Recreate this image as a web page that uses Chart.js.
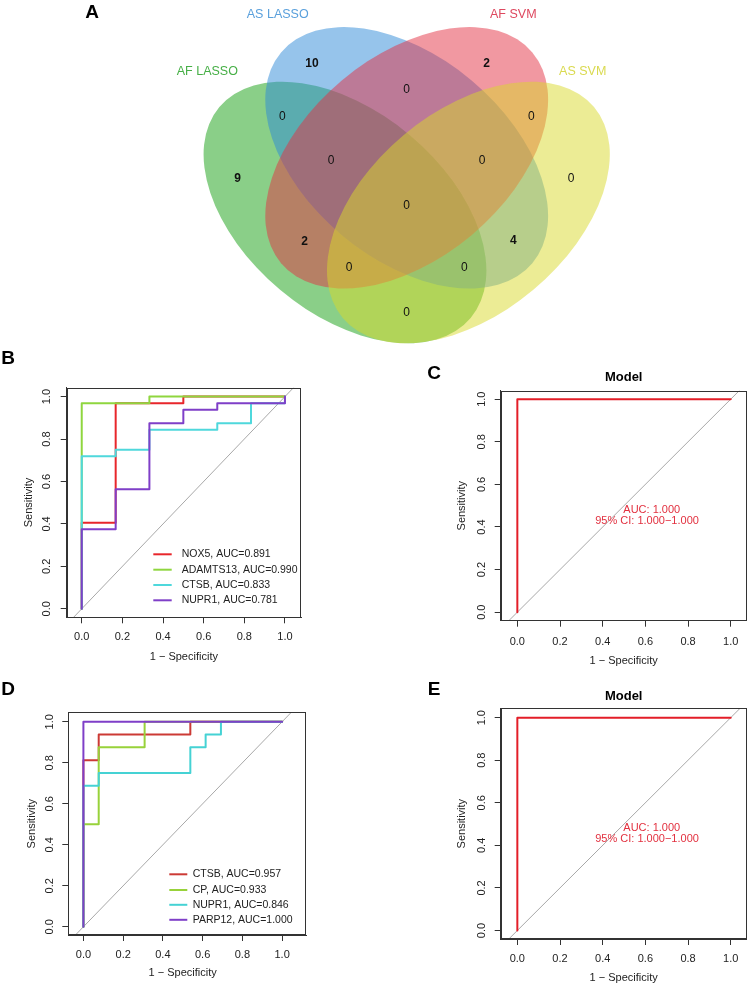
<!DOCTYPE html>
<html>
<head>
<meta charset="utf-8">
<script src="https://cdn.jsdelivr.net/npm/chart.js@4.4.1/dist/chart.umd.min.js"></script>
<style>
  html, body { margin: 0; padding: 0; background: #fff; }
  body { width: 750px; height: 987px; position: relative; overflow: hidden;
         font-family: "Liberation Sans", Arial, Helvetica, sans-serif; }
  canvas { position: absolute; }
  .plab { position: absolute; width: 40px; text-align: center; font-weight: bold;
          font-size: 19px; line-height: 19px; color: #000; }
</style>
</head>
<body>
<canvas id="venn" width="750" height="350" style="left:0;top:0;width:750px;height:350px"></canvas>
<canvas id="rocB" width="310" height="330" style="left:0;top:340px;width:310px;height:330px"></canvas>
<canvas id="rocC" width="310" height="330" style="left:440px;top:340px;width:310px;height:330px"></canvas>
<canvas id="rocD" width="310" height="317" style="left:0;top:670px;width:310px;height:317px"></canvas>
<canvas id="rocE" width="310" height="317" style="left:440px;top:670px;width:310px;height:317px"></canvas>
<div class="plab" style="left:72px;top:2px">A</div>
<div class="plab" style="left:-12px;top:348px">B</div>
<div class="plab" style="left:414px;top:363px">C</div>
<div class="plab" style="left:-12px;top:679px">D</div>
<div class="plab" style="left:414px;top:679px">E</div>
<script>
// ================= DATA =================
// Venn diagram (panel A)
const vennSetNames = ['AF LASSO', 'AS LASSO', 'AF SVM', 'AS SVM'];
const vennRegionNames = [
  'AS LASSO only', 'AF SVM only', 'AF LASSO & AS LASSO', 'AS LASSO & AF SVM',
  'AF SVM & AS SVM', 'AF LASSO & AS LASSO & AF SVM', 'AF LASSO only',
  'AS LASSO & AF SVM & AS SVM', 'All four', 'AS SVM only', 'AF LASSO & AF SVM',
  'AS LASSO & AS SVM', 'AF LASSO & AF SVM & AS SVM', 'AF LASSO & AS LASSO & AS SVM',
  'AF LASSO & AS SVM'
];
const vennCounts = [10, 2, 0, 0, 0, 0, 9, 0, 0, 0, 2, 4, 0, 0, 0];

// ROC axes
const rocTicks = [0, 0.2, 0.4, 0.6, 0.8, 1.0];
const rocTickLabels = ['0.0', '0.2', '0.4', '0.6', '0.8', '1.0'];

// Panel B
const bGenes = ['NOX5', 'ADAMTS13', 'CTSB', 'NUPR1'];
const bAUC = ['0.891', '0.990', '0.833', '0.781'];
const bNOX5Fpr = [0, 0, 0.167, 0.167, 0.5, 0.5, 1];
const bNOX5Tpr = [0, 0.406, 0.406, 0.969, 0.969, 1, 1];
const bADAMTS13Fpr = [0, 0, 0.333, 0.333, 1];
const bADAMTS13Tpr = [0, 0.969, 0.969, 1, 1];
const bCTSBFpr = [0, 0, 0.167, 0.167, 0.333, 0.333, 0.667, 0.667, 0.833, 0.833, 1, 1];
const bCTSBTpr = [0, 0.719, 0.719, 0.75, 0.75, 0.844, 0.844, 0.875, 0.875, 0.969, 0.969, 1];
const bNUPR1Fpr = [0, 0, 0.167, 0.167, 0.333, 0.333, 0.5, 0.5, 0.667, 0.667, 1, 1];
const bNUPR1Tpr = [0, 0.375, 0.375, 0.563, 0.563, 0.875, 0.875, 0.938, 0.938, 0.969, 0.969, 1];

// Panel D
const dGenes = ['CTSB', 'CP', 'NUPR1', 'PARP12'];
const dAUC = ['0.957', '0.933', '0.846', '1.000'];
const dCTSBFpr = [0, 0, 0.077, 0.077, 0.538, 0.538, 1];
const dCTSBTpr = [0, 0.8125, 0.8125, 0.9375, 0.9375, 1, 1];
const dCPFpr = [0, 0, 0.077, 0.077, 0.308, 0.308, 1];
const dCPTpr = [0, 0.5, 0.5, 0.875, 0.875, 1, 1];
const dNUPR1Fpr = [0, 0, 0.077, 0.077, 0.538, 0.538, 0.615, 0.615, 0.692, 0.692, 1];
const dNUPR1Tpr = [0, 0.6875, 0.6875, 0.75, 0.75, 0.875, 0.875, 0.9375, 0.9375, 1, 1];
const dPARP12Fpr = [0, 0, 1];
const dPARP12Tpr = [0, 1, 1];

// Panels C and E (combined model)
const cModelFpr = [0, 0, 1];
const cModelTpr = [0, 1, 1];
const cAUC = '1.000';
const cCI = ['1.000', '1.000'];
const eModelFpr = [0, 0, 1];
const eModelTpr = [0, 1, 1];
const eAUC = '1.000';
const eCI = ['1.000', '1.000'];

// Identity reference line (y = x)
const identityX = [-1, 2];

// ================= LAYOUT / STYLE =================
const FONT = '"Liberation Sans", Arial, Helvetica, sans-serif';
const vennLayout = {
  ellipses: [ // cx, cy, semi-major, semi-minor, rotation(deg) in canvas units
    { cx: 345.0, cy: 212.5, a: 164, b: 101, rot: 40,  fill: 'rgba(22,160,18,0.5)',  text: 'rgb(70,175,70)',  lx: 207.3, ly: 71.7 },
    { cx: 406.7, cy: 157.8, a: 164, b: 101, rot: 40,  fill: 'rgba(45,137,215,0.5)', text: 'rgb(90,160,220)', lx: 277.7, ly: 14.3 },
    { cx: 406.7, cy: 157.8, a: 164, b: 101, rot: -40, fill: 'rgba(227,49,67,0.5)',  text: 'rgb(222,72,95)',  lx: 513.3, ly: 14.3 },
    { cx: 468.4, cy: 212.5, a: 164, b: 101, rot: -40, fill: 'rgba(217,217,43,0.5)', text: 'rgb(218,218,80)', lx: 582.7, ly: 71.7 }
  ],
  labelPos: [
    [312, 63.3], [486.7, 63.3], [282.3, 116.7], [406.7, 90], [531.3, 116.7],
    [331, 161], [237.7, 179], [482, 161], [406.7, 205.7], [571, 179],
    [304.7, 241.3], [513.3, 241], [349, 267.7], [464.3, 267.7], [406.7, 312.3]
  ]
};

// ================= VENN =================
(function () {
  const pts = vennCounts.map((c, i) => ({ x: vennLayout.labelPos[i][0], y: vennLayout.labelPos[i][1] }));
  const vennPlugin = {
    id: 'vennShapes',
    beforeDatasetsDraw(chart) {
      const { ctx, scales: { x, y } } = chart;
      ctx.save();
      vennLayout.ellipses.forEach(e => {
        const px = x.getPixelForValue(e.cx), py = y.getPixelForValue(e.cy);
        const sx = Math.abs(x.getPixelForValue(e.a) - x.getPixelForValue(0));
        const sy = Math.abs(y.getPixelForValue(e.b) - y.getPixelForValue(0));
        ctx.beginPath();
        ctx.ellipse(px, py, sx, sy, e.rot * Math.PI / 180, 0, Math.PI * 2);
        ctx.fillStyle = e.fill;
        ctx.fill();
      });
      ctx.textAlign = 'center';
      ctx.textBaseline = 'middle';
      ctx.font = '12.5px ' + FONT;
      vennLayout.ellipses.forEach((e, i) => {
        ctx.fillStyle = e.text;
        ctx.fillText(vennSetNames[i], x.getPixelForValue(e.lx), y.getPixelForValue(e.ly));
      });
      ctx.restore();
    },
    afterDatasetsDraw(chart) {
      const { ctx } = chart;
      const meta = chart.getDatasetMeta(0);
      ctx.save();
      ctx.textAlign = 'center';
      ctx.textBaseline = 'middle';
      ctx.fillStyle = '#111';
      meta.data.forEach((el, i) => {
        ctx.font = (vennCounts[i] > 0 ? 'bold ' : '') + '12px ' + FONT;
        ctx.fillText(String(vennCounts[i]), el.x, el.y);
      });
      ctx.restore();
    }
  };
  new Chart(document.getElementById('venn'), {
    type: 'scatter',
    data: { labels: vennRegionNames, datasets: [{ label: 'Venn counts', data: pts, pointRadius: 0, pointHoverRadius: 0 }] },
    options: {
      responsive: false, animation: false, events: [],
      layout: { padding: 0 },
      plugins: { legend: { display: false }, tooltip: { enabled: false } },
      scales: {
        x: { type: 'linear', min: 0, max: 750, display: false },
        y: { type: 'linear', min: 0, max: 350, reverse: true, display: false }
      }
    },
    plugins: [vennPlugin]
  });
})();

// ================= ROC =================
function rocChart(id, cfg) {
  const datasets = [{
    label: 'identity',
    data: identityX.map(v => ({ x: v, y: v })),
    borderColor: '#a8a8a8', borderWidth: 1, showLine: true, pointRadius: 0, order: 100
  }];
  cfg.series.forEach((s, i) => {
    datasets.push({
      label: s.label,
      data: s.fpr.map((v, j) => ({ x: v, y: s.tpr[j] })),
      borderColor: s.color, borderWidth: 2, showLine: true, pointRadius: 0,
      borderJoinStyle: 'round', borderCapStyle: 'round',
      order: cfg.series.length - i
    });
  });
  const L = cfg.layout;
  const textPlugin = {
    id: 'rocText',
    afterDraw(chart) {
      const { ctx, chartArea: a, scales: { x, y } } = chart;
      ctx.save();
      ctx.strokeStyle = '#333'; ctx.lineWidth = 1;
      ctx.strokeRect(Math.round(a.left) + 0.5, Math.round(a.top) + 0.5,
                     Math.round(a.right - a.left) - 1, Math.round(a.bottom - a.top) - 1);
      ctx.fillStyle = '#222';
      ctx.font = '11px ' + FONT;
      ctx.textAlign = 'center'; ctx.textBaseline = 'middle';
      rocTicks.forEach((v, i) => {
        ctx.fillText(rocTickLabels[i], x.getPixelForValue(v), a.bottom + L.xTickOff);
        ctx.save();
        ctx.translate(a.left - L.yTickOff, y.getPixelForValue(v));
        ctx.rotate(-Math.PI / 2);
        ctx.fillText(rocTickLabels[i], 0, 0);
        ctx.restore();
      });
      ctx.fillText('1 \u2212 Specificity', L.xTitleX != null ? L.xTitleX : (a.left + a.right) / 2, a.bottom + L.xTitleOff);
      ctx.save();
      ctx.translate(a.left - L.yTitleOff, (a.top + a.bottom) / 2);
      ctx.rotate(-Math.PI / 2);
      ctx.fillText('Sensitivity', 0, 0);
      ctx.restore();
      if (cfg.title) {
        ctx.font = 'bold 13px ' + FONT;
        ctx.fillStyle = '#000';
        ctx.fillText(cfg.title, (a.left + a.right) / 2, a.top - L.titleOff);
      }
      if (cfg.aucText) {
        ctx.font = '11px ' + FONT;
        ctx.fillStyle = cfg.aucColor;
        cfg.aucText.forEach(t => ctx.fillText(t.text, x.getPixelForValue(t.x), y.getPixelForValue(t.y)));
      }
      if (cfg.legend) {
        const g = cfg.legend;
        ctx.font = '10.5px ' + FONT;
        ctx.textAlign = 'left';
        cfg.series.forEach((s, i) => {
          const ry = g.rows[i];
          ctx.strokeStyle = s.color; ctx.lineWidth = 2;
          ctx.beginPath(); ctx.moveTo(g.x0, ry); ctx.lineTo(g.x1, ry); ctx.stroke();
          ctx.fillStyle = '#222';
          ctx.fillText(s.legend, g.tx, ry);
        });
      }
      ctx.restore();
    }
  };
  const axisCommon = {
    type: 'linear',
    grid: { display: true, drawOnChartArea: false, drawTicks: true, tickLength: 6, color: '#333', lineWidth: 1 },
    border: { display: true, color: '#333', width: 1 },
    ticks: { display: false }
  };
  new Chart(document.getElementById(id), {
    type: 'scatter',
    data: { datasets },
    options: {
      responsive: false, animation: false, events: [],
      layout: { padding: { top: L.padTop, right: L.padRight, left: 0, bottom: 0 } },
      plugins: { legend: { display: false }, tooltip: { enabled: false } },
      scales: {
        x: Object.assign({}, axisCommon, {
          position: 'bottom', min: cfg.xMin, max: cfg.xMax,
          afterBuildTicks: s => { s.ticks = rocTicks.map(v => ({ value: v })); },
          afterFit: s => { s.height = L.xAxisH; }
        }),
        y: Object.assign({}, axisCommon, {
          position: 'left', min: cfg.yMin, max: cfg.yMax,
          afterBuildTicks: s => { s.ticks = rocTicks.map(v => ({ value: v })); },
          afterFit: s => { s.width = L.yAxisW; }
        })
      }
    },
    plugins: [textPlugin]
  });
}

const bColors = ['#E8262B', '#8FD63F', '#4FD8DC', '#7F3FC8'];
rocChart('rocB', {
  xMin: -0.074, xMax: 1.079, yMin: -0.04, yMax: 1.042,
  series: [
    { label: bGenes[0], fpr: bNOX5Fpr, tpr: bNOX5Tpr },
    { label: bGenes[1], fpr: bADAMTS13Fpr, tpr: bADAMTS13Tpr },
    { label: bGenes[2], fpr: bCTSBFpr, tpr: bCTSBTpr },
    { label: bGenes[3], fpr: bNUPR1Fpr, tpr: bNUPR1Tpr }
  ].map((s, i) => Object.assign(s, { color: bColors[i], legend: bGenes[i] + ', AUC=' + bAUC[i] })),
  legend: { x0: 153.3, x1: 171.7, tx: 181.7, rows: [214.3, 229.7, 245, 260.3] },
  layout: { padTop: 47.7, padRight: 9, xAxisH: 52.7, yAxisW: 66.7,
            yTickOff: 20, xTickOff: 19.4, xTitleOff: 39.4, yTitleOff: 37.4 }
});

const dColors = ['#CC3A35', '#98D23A', '#45D2D4', '#7F3FC8'];
rocChart('rocD', {
  xMin: -0.076, xMax: 1.12, yMin: -0.04, yMax: 1.046,
  series: [
    { label: dGenes[0], fpr: dCTSBFpr, tpr: dCTSBTpr },
    { label: dGenes[1], fpr: dCPFpr, tpr: dCPTpr },
    { label: dGenes[2], fpr: dNUPR1Fpr, tpr: dNUPR1Tpr },
    { label: dGenes[3], fpr: dPARP12Fpr, tpr: dPARP12Tpr }
  ].map((s, i) => Object.assign(s, { color: dColors[i], legend: dGenes[i] + ', AUC=' + dAUC[i] })),
  legend: { x0: 169.3, x1: 187.3, tx: 192.7, rows: [204.3, 220, 234.8, 249.8] },
  layout: { padTop: 42.3, padRight: 4, xAxisH: 52, yAxisW: 68.3,
            yTickOff: 18.3, xTickOff: 20, xTitleOff: 38.3, yTitleOff: 36, xTitleX: 182.7 }
});

const modelRed = '#E31E28';
rocChart('rocC', {
  xMin: -0.078, xMax: 1.075, yMin: -0.04, yMax: 1.04,
  title: 'Model',
  series: [{ label: 'Model', fpr: cModelFpr, tpr: cModelTpr, color: modelRed }],
  aucColor: '#E2303F',
  aucText: [
    { text: 'AUC: ' + cAUC, x: 0.63, y: 0.48 },
    { text: '95% CI: ' + cCI[0] + '\u2212' + cCI[1], x: 0.608, y: 0.428 }
  ],
  layout: { padTop: 50.7, padRight: 3.3, xAxisH: 49.3, yAxisW: 60.7,
            yTickOff: 18.4, xTickOff: 21, xTitleOff: 40, yTitleOff: 38.4, titleOff: 13.4 }
});

rocChart('rocE', {
  xMin: -0.078, xMax: 1.075, yMin: -0.04, yMax: 1.044,
  title: 'Model',
  series: [{ label: 'Model', fpr: eModelFpr, tpr: eModelTpr, color: modelRed }],
  aucColor: '#E2303F',
  aucText: [
    { text: 'AUC: ' + eAUC, x: 0.63, y: 0.481 },
    { text: '95% CI: ' + eCI[0] + '\u2212' + eCI[1], x: 0.608, y: 0.429 }
  ],
  layout: { padTop: 38.3, padRight: 3.3, xAxisH: 48, yAxisW: 60.7,
            yTickOff: 18.4, xTickOff: 20.3, xTitleOff: 39.3, yTitleOff: 38.4, titleOff: 12.3 }
});
</script>
</body>
</html>
